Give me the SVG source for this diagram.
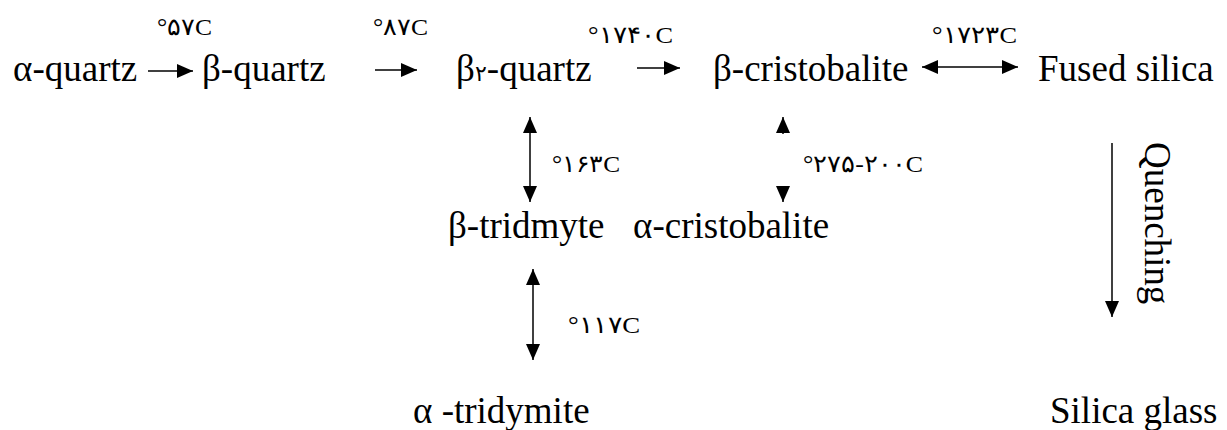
<svg xmlns="http://www.w3.org/2000/svg" width="1227" height="430" viewBox="0 0 1227 430">
<style>
.t{font-family:"Liberation Serif","Times New Roman",serif;font-size:37px;fill:#000}
.l{font-family:"Liberation Serif","DejaVu Sans",serif;font-size:24px;font-weight:200;fill:#000}
.d{font-family:"DejaVu Sans",sans-serif;font-weight:200}
.c{stroke:#000;stroke-width:1.5;fill:none}
</style>
<defs>
<marker id="ah" viewBox="0 0 16 14" refX="16" refY="7" markerWidth="16" markerHeight="14" markerUnits="userSpaceOnUse" orient="auto-start-reverse"><path d="M0,0 L16,7 L0,14 z" fill="#000"/></marker>
</defs>
<rect width="1227" height="430" fill="#fff"/>
<g id="n-alpha-quartz"><text class="t" x="13" y="81">α-quartz</text></g>
<g id="n-beta-quartz"><text class="t" x="202" y="81">β-quartz</text></g>
<g id="n-beta2-quartz"><text class="t" x="456" y="81">β<tspan class="d" font-size="22">۲</tspan>-quartz</text></g>
<g id="n-beta-cristobalite"><text class="t" x="713" y="81">β-cristobalite</text></g>
<g id="n-fused-silica"><text class="t" x="1038" y="81">Fused silica</text></g>
<g id="n-beta-tridmyte"><text class="t" x="448" y="238">β-tridmyte</text></g>
<g id="n-alpha-cristobalite"><text class="t" x="633" y="238">α-cristobalite</text></g>
<g id="n-alpha-tridymite"><text class="t" x="413" y="423">α -tridymite</text></g>
<g id="n-silica-glass"><text class="t" x="1050" y="423">Silica glass</text></g>
<g id="connectors">
<line class="c" x1="148" y1="71" x2="193" y2="71" marker-end="url(#ah)"/>
<line class="c" x1="375" y1="70" x2="417" y2="70" marker-end="url(#ah)"/>
<line class="c" x1="637" y1="68" x2="680" y2="68" marker-end="url(#ah)"/>
<line class="c" x1="922" y1="67" x2="1018" y2="67" marker-start="url(#ah)" marker-end="url(#ah)"/>
<line class="c" x1="530" y1="117" x2="530" y2="202" marker-start="url(#ah)" marker-end="url(#ah)"/>
<line class="c" x1="783" y1="134" x2="783" y2="117" marker-end="url(#ah)"/>
<line class="c" x1="783" y1="186" x2="783" y2="202" marker-end="url(#ah)"/>
<line class="c" x1="533" y1="269" x2="533" y2="360" marker-start="url(#ah)" marker-end="url(#ah)"/>
<line class="c" x1="1112" y1="143" x2="1112" y2="317" marker-end="url(#ah)"/>
<text class="l" x="157" y="35" textLength="55" lengthAdjust="spacingAndGlyphs">°۵۷C</text>
<text class="l" x="373" y="35" textLength="55" lengthAdjust="spacingAndGlyphs">°۸۷C</text>
<text class="l" x="588" y="43" textLength="85" lengthAdjust="spacingAndGlyphs">°۱۷۴۰C</text>
<text class="l" x="932" y="43" textLength="85" lengthAdjust="spacingAndGlyphs">°۱۷۲۳C</text>
<text class="l" x="552" y="172" textLength="68" lengthAdjust="spacingAndGlyphs">°۱۶۳C</text>
<text class="l" x="803" y="172" textLength="120" lengthAdjust="spacingAndGlyphs">°۲۷۵-۲۰۰C</text>
<text class="l" x="568" y="333" textLength="72" lengthAdjust="spacingAndGlyphs">°۱۱۷C</text>
<text class="t" transform="translate(1145,142) rotate(90)">Quenching</text>
</g>
</svg>
